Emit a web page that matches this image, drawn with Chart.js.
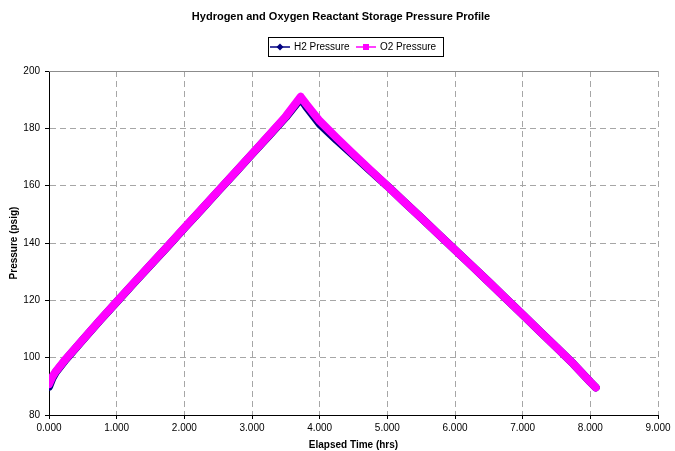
<!DOCTYPE html>
<html>
<head>
<meta charset="utf-8">
<script src="https://cdn.jsdelivr.net/npm/chart.js@4.4.0/dist/chart.umd.min.js"></script>
<style>
html, body { margin: 0; padding: 0; background: #fff; }
#wrap { width: 675px; height: 451px; }
</style>
</head>
<body>
<div id="wrap"><canvas id="myChart" width="675" height="451"></canvas></div>
<script>
// valores
const tiempos = [0.00, 0.05, 0.10, 0.25, 0.50, 0.75, 1.00, 1.25, 1.50, 1.75, 2.00, 2.25, 2.50, 2.75, 3.00, 3.25, 3.50, 3.72,
    3.80, 4.00, 4.25, 4.50, 4.75, 5.00, 5.25, 5.50, 5.75, 6.00, 6.25, 6.50, 6.75, 7.00, 7.25, 7.50, 7.75, 8.00, 8.08]
const presionH2 = [89.8, 92.8, 94.9, 99.4, 106.2, 112.9, 119.4, 125.9, 132.3, 138.7, 145.2, 151.6, 158.1, 164.5, 171.0, 177.4, 183.9, 190.4,
    187.6, 181.5, 175.9, 170.6, 165.2, 159.9, 154.3, 148.8, 143.2, 137.6, 132.0, 126.4, 120.7, 115.0, 109.3, 103.6, 97.8, 91.5, 89.6]
const presionO2 = [90.8, 93.4, 95.2, 99.6, 106.3, 113.0, 119.5, 126.0, 132.4, 138.8, 145.3, 151.7, 158.2, 164.6, 171.1, 177.6, 184.2, 191.0,
    188.5, 182.6, 176.7, 171.0, 165.4, 159.9, 154.3, 148.8, 143.2, 137.6, 132.0, 126.4, 120.7, 115.0, 109.3, 103.6, 97.8, 91.5, 89.6]
const ticksX = [0, 1, 2, 3, 4, 5, 6, 7, 8, 9]
const ticksY = [80, 100, 120, 140, 160, 180, 200]

const fuente = "'Liberation Sans', Arial, sans-serif"

const titulo = "Hydrogen and Oxygen Reactant Storage Pressure Profile"
const series = [
    { nombre: "H2 Pressure", color: "#000080", marca: "diamante" },
    { nombre: "O2 Pressure", color: "#FF00FF", marca: "cuadro" }
]

function puntos(valores) {
    return tiempos.map((t, i) => ({ x: t, y: valores[i] }))
}

// titulo, leyenda con recuadro y linea superior
const extras = {
    id: "extras",
    beforeDatasetsDraw(chart) {
        const ctx = chart.ctx
        const a = chart.chartArea
        ctx.save()
        ctx.strokeStyle = "#8c8c8c"
        ctx.lineWidth = 1
        ctx.beginPath()
        ctx.moveTo(a.left, a.top + 0.5)
        ctx.lineTo(a.right, a.top + 0.5)
        ctx.stroke()
        ctx.restore()
    },
    afterDraw(chart) {
        const ctx = chart.ctx
        ctx.save()
        ctx.fillStyle = "#000"
        ctx.font = "bold 11px " + fuente
        ctx.textAlign = "center"
        ctx.textBaseline = "middle"
        ctx.fillText(titulo, 341, 17)

        // recuadro leyenda
        ctx.strokeStyle = "#000"
        ctx.lineWidth = 1
        ctx.strokeRect(268.5, 37.5, 175, 19)
        const y = 47
        const pos = [270, 356]
        series.forEach((s, i) => {
            const x = pos[i]
            ctx.strokeStyle = s.color
            ctx.lineWidth = 1.5
            ctx.beginPath()
            ctx.moveTo(x, y)
            ctx.lineTo(x + 20, y)
            ctx.stroke()
            ctx.fillStyle = s.color
            const cx = x + 10
            if (s.marca === "diamante") {
                ctx.beginPath()
                ctx.moveTo(cx, y - 3.5)
                ctx.lineTo(cx + 3.5, y)
                ctx.lineTo(cx, y + 3.5)
                ctx.lineTo(cx - 3.5, y)
                ctx.closePath()
                ctx.fill()
            } else {
                ctx.fillRect(cx - 3, y - 3, 6, 6)
            }
            ctx.fillStyle = "#000"
            ctx.font = "10px " + fuente
            ctx.textAlign = "left"
            ctx.fillText(s.nombre, x + 24, y + 0.5)
        })
        ctx.restore()
    }
}

const grafico = document.getElementById("myChart").getContext("2d")
const myChart = new Chart(grafico, {
    type: "line",
    data: {
        datasets: [
            {
                label: series[0].nombre,
                data: puntos(presionH2),
                borderColor: series[0].color,
                backgroundColor: series[0].color,
                borderWidth: 8,
                borderCapStyle: "round",
                borderJoinStyle: "round",
                pointStyle: "rectRot",
                pointRadius: 3,
                pointBorderWidth: 0,
                tension: 0,
                order: 2
            },
            {
                label: series[1].nombre,
                data: puntos(presionO2),
                borderColor: series[1].color,
                backgroundColor: series[1].color,
                borderWidth: 8,
                borderCapStyle: "round",
                borderJoinStyle: "round",
                pointStyle: "rect",
                pointRadius: 3,
                pointBorderWidth: 0,
                tension: 0,
                order: 1
            }
        ]
    },
    options: {
        responsive: false,
        animation: false,
        devicePixelRatio: 1,
        layout: {
            padding: { top: 71, right: 17, left: 0, bottom: 0 }
        },
        plugins: {
            legend: { display: false },
            title: { display: false },
            tooltip: { enabled: false }
        },
        scales: {
            x: {
                type: "linear",
                min: 0,
                max: 9,
                afterBuildTicks: scale => { scale.ticks = ticksX.map(v => ({ value: v })) },
                afterFit: scale => { scale.height = 36 },
                ticks: {
                    color: "#000",
                    font: { family: fuente, size: 10 },
                    padding: 3,
                    maxRotation: 0,
                    callback: v => Number(v).toFixed(3)
                },
                grid: {
                    color: "#a6a6a6",
                    lineWidth: 1,
                    tickLength: 4,
                    tickColor: "#000",
                    tickBorderDash: []
                },
                border: { display: true, color: "#000", width: 1, dash: [6, 4] },
                title: {
                    display: true,
                    text: "Elapsed Time (hrs)",
                    color: "#000",
                    font: { family: fuente, size: 10, weight: "bold" },
                    padding: { top: 0, bottom: 0 }
                }
            },
            y: {
                min: 80,
                max: 200,
                afterBuildTicks: scale => { scale.ticks = ticksY.map(v => ({ value: v })) },
                afterFit: scale => { scale.width = 49 },
                ticks: {
                    color: "#000",
                    font: { family: fuente, size: 10 },
                    padding: 5
                },
                grid: {
                    color: "#a6a6a6",
                    lineWidth: 1,
                    tickLength: 4,
                    tickColor: "#000",
                    tickBorderDash: []
                },
                border: { display: true, color: "#000", width: 1, dash: [6, 4] },
                title: {
                    display: true,
                    text: "Pressure (psig)",
                    color: "#000",
                    font: { family: fuente, size: 10, weight: "bold" },
                    padding: { top: 8, bottom: 0 }
                }
            }
        }
    },
    plugins: [extras]
})
</script>
</body>
</html>
